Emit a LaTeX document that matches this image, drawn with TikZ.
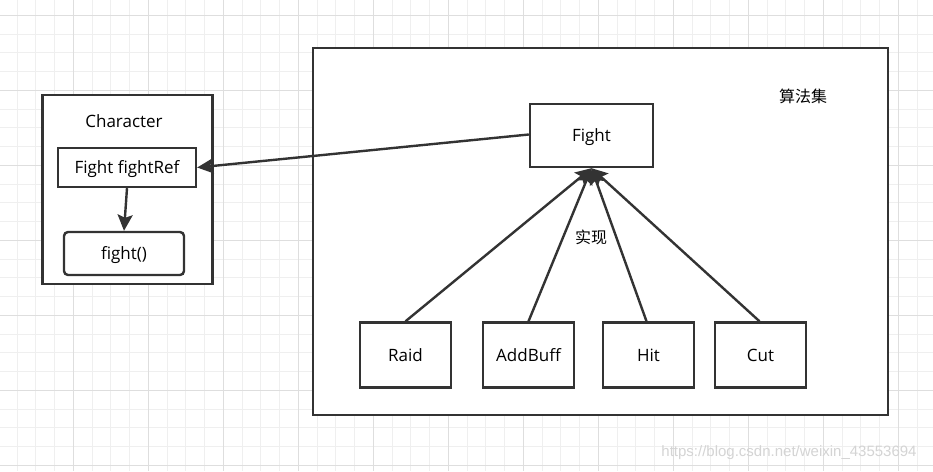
\documentclass[tikz,border=0pt]{standalone}
\usepackage{fontspec}
\setmainfont{Open Sans}
\newfontfamily\cjkfont{Noto Sans CJK SC}
\newfontfamily\markfont{Liberation Sans}
\usetikzlibrary{arrows.meta}
\definecolor{ink}{HTML}{333333}
\definecolor{gridminor}{HTML}{EFEFEF}
\definecolor{gridmajor}{HTML}{DEDEDE}
\tikzset{
  txt/.style={font=\fontsize{17}{19}\selectfont, text height=12pt, text depth=0pt},
  box/.style={draw=ink, line width=2.4pt, fill=white, inner sep=0pt, txt},
  rbox/.style={box, rounded corners=4pt},
  link/.style={draw=ink, line width=2.4pt, -{Stealth[length=16pt,width=15pt,inset=3pt]}},
  lbl/.style={inner sep=0pt, txt},
}
\begin{document}
\begin{tikzpicture}[x=1pt,y=-1pt]
\useasboundingbox (0,0) rectangle (933,471);
\fill[white] (0,0) rectangle (933,471);
% background grid
\foreach \i in {0,...,50} {
  \pgfmathsetmacro\gx{-1.7+18.75*\i}
  \draw[gridminor, line width=1pt] (\gx,0) -- (\gx,471);
}
\foreach \i in {0,...,26} {
  \pgfmathsetmacro\gy{-3.3+18.75*\i}
  \draw[gridminor, line width=1pt] (0,\gy) -- (933,\gy);
}
\foreach \i in {0,...,12} {
  \pgfmathsetmacro\gx{-1.7+75*\i}
  \draw[gridmajor, line width=1pt] (\gx,0) -- (\gx,471);
}
\foreach \i in {0,...,6} {
  \pgfmathsetmacro\gy{15.7+75*\i}
  \draw[gridmajor, line width=1pt] (0,\gy) -- (933,\gy);
}
% watermark
\node[inner sep=0pt, text=black!17, font=\markfont\fontsize{15}{17}\selectfont] (mark) at (789,453) {https://blog.csdn.net/weixin\_43553694};

% Character container
\node[box, minimum width=170pt, minimum height=189pt] (character) at (127.5,189.5) {};
\node[lbl] (charlbl) at (124,121) {Character};
\node[box, minimum width=138pt, minimum height=39pt] (ref) at (127,167.5) {Fight fightRef};
\node[rbox, minimum width=120pt, minimum height=43pt] (fightm) at (124,253.5) {fight()};

% strategy set container
\node[box, minimum width=575pt, minimum height=367pt] (algos) at (600.5,231.5) {};
\node[lbl, font=\cjkfont\fontsize{16}{18}\selectfont] (algolbl) at (803,96) {算法集};
\node[box, minimum width=123pt, minimum height=63pt] (fight) at (591.5,135.5) {Fight};

\node[box, minimum width=91pt, minimum height=65pt] (raid) at (405.5,355) {Raid};
\node[box, minimum width=91pt, minimum height=65pt] (addbuff) at (528.5,355) {AddBuff};
\node[box, minimum width=91pt, minimum height=65pt] (hit) at (648.5,355) {Hit};
\node[box, minimum width=91pt, minimum height=65pt] (cut) at (760.5,355) {Cut};
\node[lbl, font=\cjkfont\fontsize{16}{18}\selectfont] (impl) at (591,237) {实现};

% connectors
\coordinate (fbase) at (fight.south);
\draw[link] ([yshift=1pt]fight.west) -- (ref.east);
\draw[link] (ref.south) -- (fightm.north);
\draw[link] (raid.north) -- (fbase);
\draw[link] (addbuff.north) -- (fbase);
\draw[link] ([xshift=-2pt]hit.north) -- (fbase);
\draw[link] ([xshift=-1pt]cut.north) -- (fbase);
\end{tikzpicture}
\end{document}
